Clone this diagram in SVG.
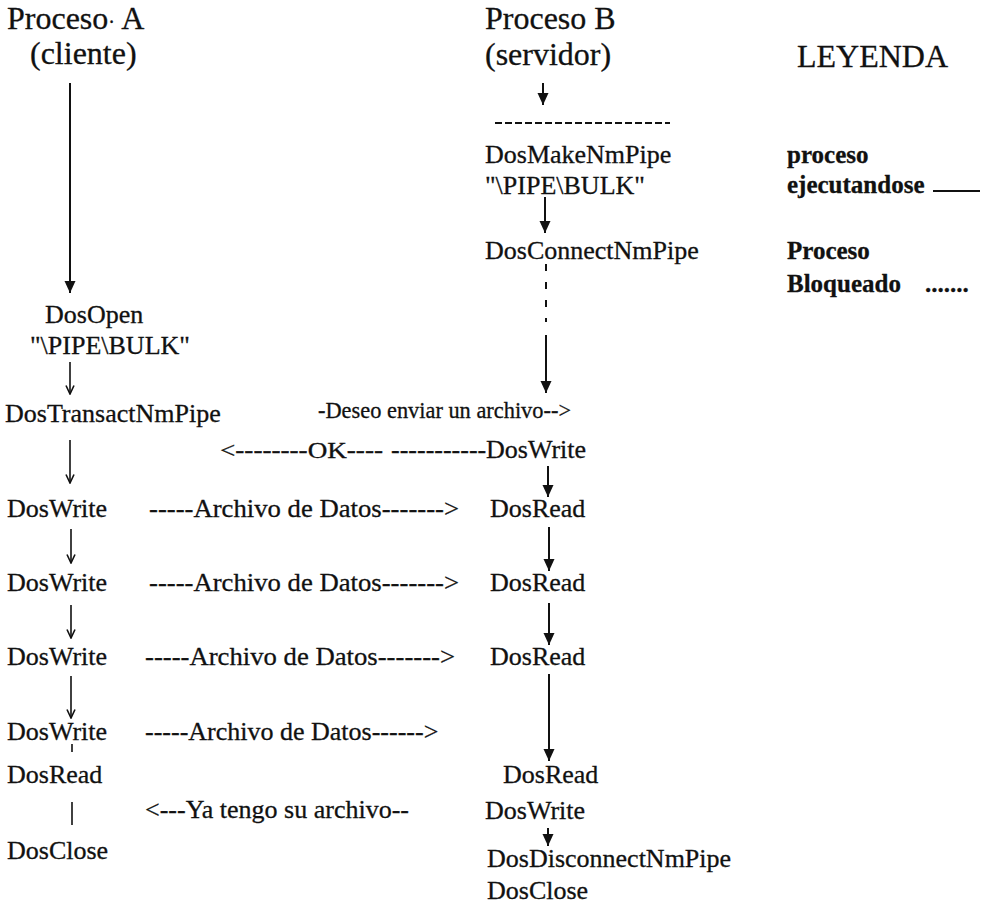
<svg xmlns="http://www.w3.org/2000/svg" width="989" height="910" viewBox="0 0 989 910">
  <style>
    text { font-family: "Liberation Serif", "Times New Roman", serif; fill: #111; stroke: #111; stroke-width: 0.3; }
    .hdr { font-size: 32px; }
    .body { font-size: 26px; }
    .small { font-size: 23px; }
    .leg { font-size: 25px; font-weight: bold; }
    .flow { stroke: #111; stroke-width: 2; fill: none; }
    .thin { stroke: #111; stroke-width: 1.6; fill: none; }
    .dotted { stroke: #111; stroke-width: 2; stroke-dasharray: 7 11; fill: none; }
  </style>
  <defs>
    <marker id="solid" viewBox="0 0 12 12" refX="12" refY="6" markerWidth="12" markerHeight="12" markerUnits="userSpaceOnUse" orient="auto">
      <path d="M0,0.5 L12,6 L0,11.5 z" fill="#111"/>
    </marker>
    <marker id="open" viewBox="0 0 10 10" refX="9.5" refY="5" markerWidth="10" markerHeight="10" markerUnits="userSpaceOnUse" orient="auto">
      <path d="M1,1 L9.5,5 L1,9" fill="none" stroke="#111" stroke-width="1.6"/>
    </marker>
  </defs>

  <rect width="989" height="910" fill="#fff"/>

  <!-- column headers -->
  <g id="proceso-a">
    <text class="hdr" x="7" y="29">Proceso<tspan font-size="20">·</tspan> A</text>
    <text class="hdr" x="30" y="64">(cliente)</text>
  </g>
  <g id="proceso-b">
    <text class="hdr" x="485" y="29">Proceso B</text>
    <text class="hdr" x="485" y="65">(servidor)</text>
  </g>

  <!-- client side calls -->
  <g id="a-dosopen">
    <text class="body" x="45" y="323">DosOpen</text>
    <text class="body" x="30" y="354">"\PIPE\BULK"</text>
  </g>
  <g id="a-transact"><text class="body" x="5" y="422">DosTransactNmPipe</text></g>
  <g id="a-write1"><text class="body" x="7" y="517">DosWrite</text></g>
  <g id="a-write2"><text class="body" x="7" y="591">DosWrite</text></g>
  <g id="a-write3"><text class="body" x="7" y="665">DosWrite</text></g>
  <g id="a-write4"><text class="body" x="7" y="740">DosWrite</text></g>
  <g id="a-read"><text class="body" x="7" y="783">DosRead</text></g>
  <g id="a-close"><text class="body" x="7" y="859">DosClose</text></g>

  <!-- server side calls -->
  <g id="b-makepipe">
    <text class="body" x="485" y="163">DosMakeNmPipe</text>
    <text class="body" x="485" y="194">"\PIPE\BULK"</text>
  </g>
  <g id="b-connect"><text class="body" x="485" y="259">DosConnectNmPipe</text></g>
  <g id="b-write1"><text class="body" x="486" y="458">DosWrite</text></g>
  <g id="b-read1"><text class="body" x="490" y="517">DosRead</text></g>
  <g id="b-read2"><text class="body" x="490" y="591">DosRead</text></g>
  <g id="b-read3"><text class="body" x="490" y="665">DosRead</text></g>
  <g id="b-read4"><text class="body" x="503" y="783">DosRead</text></g>
  <g id="b-write2"><text class="body" x="485" y="819">DosWrite</text></g>
  <g id="b-disconnect">
    <text class="body" x="487" y="867">DosDisconnectNmPipe</text>
    <text class="body" x="487" y="899">DosClose</text>
  </g>

  <!-- messages between the processes -->
  <g id="messages">
    <text class="small" x="318" y="418" textLength="253" lengthAdjust="spacingAndGlyphs">-Deseo enviar un archivo--&gt;</text>
    <text class="small" x="220" y="458" textLength="163" lengthAdjust="spacingAndGlyphs">&lt;--------OK----</text>
    <text class="body" x="391" y="458">-----------</text>
    <text class="body" x="149" y="517" textLength="310" lengthAdjust="spacingAndGlyphs">-----Archivo de Datos-------&gt;</text>
    <text class="body" x="149" y="591" textLength="310" lengthAdjust="spacingAndGlyphs">-----Archivo de Datos-------&gt;</text>
    <text class="body" x="145" y="665" textLength="310" lengthAdjust="spacingAndGlyphs">-----Archivo de Datos-------&gt;</text>
    <text class="body" x="145" y="740">-----Archivo de Datos------&gt;</text>
    <text class="body" x="145" y="818">&lt;---Ya tengo su archivo--</text>
  </g>

  <!-- legend -->
  <g id="legend">
    <text class="hdr" x="797" y="67">LEYENDA</text>
    <text class="leg" x="787" y="163">proceso</text>
    <text class="leg" x="787" y="193">ejecutandose</text>
    <line class="flow" x1="933" y1="191" x2="980" y2="191"/>
    <text class="leg" x="787" y="259">Proceso</text>
    <text class="leg" x="787" y="292">Bloqueado</text>
    <text class="leg" x="925" y="292">.......</text>
  </g>

  <!-- process flow connectors -->
  <g id="connectors">
    <!-- client -->
    <line class="flow" x1="70" y1="83" x2="70" y2="293" marker-end="url(#solid)"/>
    <line class="thin" x1="70" y1="362" x2="70" y2="394" marker-end="url(#open)"/>
    <line class="thin" x1="70" y1="440" x2="70" y2="483" marker-end="url(#open)"/>
    <line class="thin" x1="71" y1="529" x2="71" y2="563" marker-end="url(#open)"/>
    <line class="thin" x1="71" y1="605" x2="71" y2="638" marker-end="url(#open)"/>
    <line class="thin" x1="71" y1="676" x2="71" y2="718" marker-end="url(#open)"/>
    <line class="thin" x1="72" y1="744" x2="72" y2="752"/>
    <line class="thin" x1="72" y1="802" x2="72" y2="825"/>
    <!-- server -->
    <line class="flow" x1="543" y1="83" x2="543" y2="105" marker-end="url(#solid)"/>
    <line x1="495" y1="123" x2="670" y2="123" stroke="#111" stroke-width="2" stroke-dasharray="7 3"/>
    <line class="flow" x1="545" y1="197" x2="545" y2="233" marker-end="url(#solid)"/>
    <line class="dotted" x1="546" y1="264" x2="546" y2="322"/>
    <line class="flow" x1="546" y1="335" x2="546" y2="393" marker-end="url(#solid)"/>
    <line class="flow" x1="548" y1="466" x2="548" y2="497" marker-end="url(#solid)"/>
    <line class="flow" x1="549" y1="527" x2="549" y2="571" marker-end="url(#solid)"/>
    <line class="flow" x1="549" y1="603" x2="549" y2="645" marker-end="url(#solid)"/>
    <line class="flow" x1="549" y1="674" x2="549" y2="761" marker-end="url(#solid)"/>
    <line class="flow" x1="548" y1="828" x2="548" y2="846" marker-end="url(#solid)"/>
  </g>
</svg>
